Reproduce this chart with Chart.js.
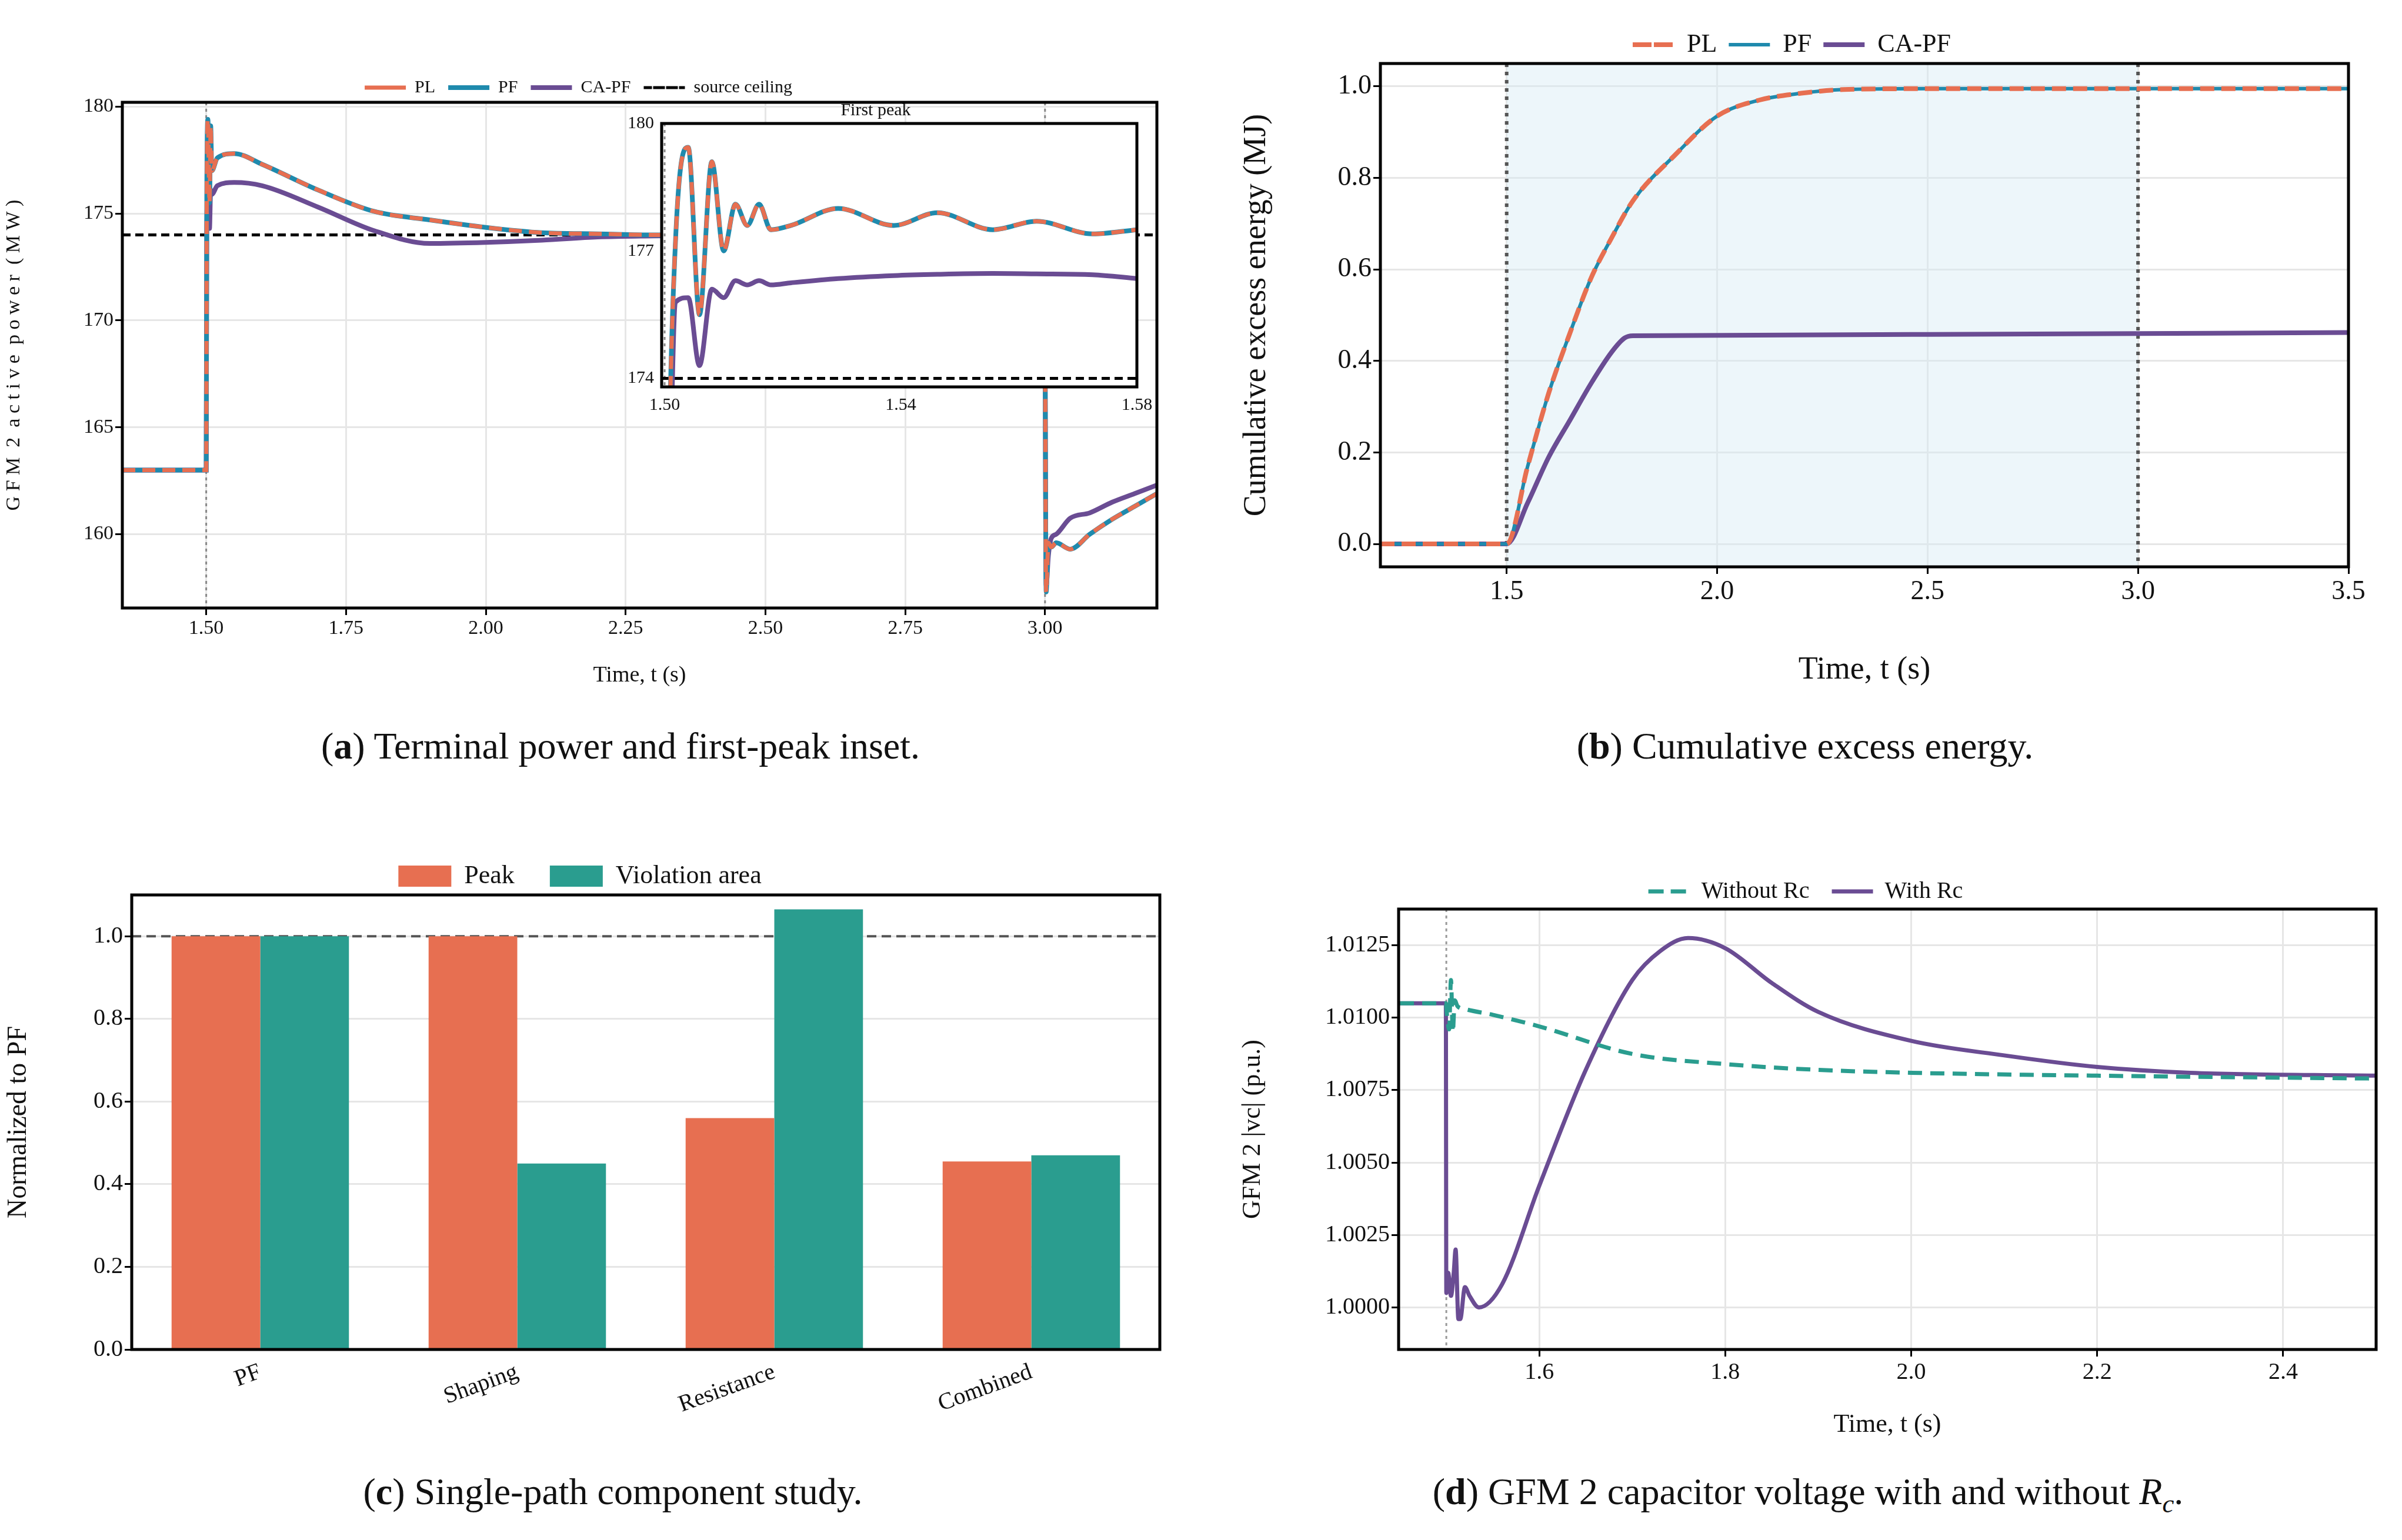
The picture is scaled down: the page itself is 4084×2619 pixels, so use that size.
<!DOCTYPE html>
<html><head><meta charset="utf-8">
<script src="https://cdn.jsdelivr.net/npm/chart.js@4"></script>
<style>
body{margin:0;background:#fff;width:4084px;height:2619px;position:relative;overflow:hidden;font-family:"Liberation Serif",serif}
.box{position:absolute}
.cap{position:absolute;font-size:64px;color:#111;transform:translateX(-50%);white-space:nowrap}
</style></head><body>
<div class="box" style="left:0;top:0;width:2000px;height:1200px"><canvas id="cA"></canvas></div>
<div class="box" style="left:1045px;top:170px;width:930px;height:540px"><canvas id="cI"></canvas></div>
<div class="box" style="left:2100px;top:0;width:1984px;height:1200px"><canvas id="cB"></canvas></div>
<div class="box" style="left:0;top:1380px;width:2000px;height:1110px"><canvas id="cC"></canvas></div>
<div class="box" style="left:2100px;top:1380px;width:1984px;height:1110px"><canvas id="cD"></canvas></div>
<div class="cap" style="left:1055px;top:1232px">(<b>a</b>) Terminal power and first-peak inset.</div>
<div class="cap" style="left:3069px;top:1232px">(<b>b</b>) Cumulative excess energy.</div>
<div class="cap" style="left:1042px;top:2500px">(<b>c</b>) Single-path component study.</div>
<div class="cap" style="left:3074px;top:2500px">(<b>d</b>) GFM 2 capacitor voltage with and without <i>R<sub style="font-size:0.7em">c</sub></i>.</div>
<script>
Chart.defaults.font.family = '"Liberation Serif", serif';
Chart.defaults.color = '#111';
Chart.defaults.animation = false;

// panel (a) main
const tA  = [1.35,1.499,1.5,1.501,1.503,1.5059,1.508,1.51,1.52,1.55,1.6,1.7,1.8,1.9,2.0,2.1,2.2,2.3,2.5,2.8,2.999,3.002,3.006,3.011,3.02,3.045,3.08,3.12,3.16,3.2];
const pfA = [163,163,163,176,179.4,175.5,179.1,177.0,177.6,177.8,177.3,176.1,175.1,174.7,174.35,174.1,174.05,174.0,174.0,174.0,174.0,157.3,159.6,159.4,159.6,159.3,160.0,160.7,161.3,161.9];
const plA = pfA.slice();
const caA = [163,163,163,174.5,175.9,174.3,176.1,175.9,176.3,176.45,176.3,175.3,174.2,173.6,173.65,173.75,173.9,173.95,174.0,174.0,174.0,157.6,159.0,159.8,160.0,160.75,161.0,161.5,161.9,162.3];
const ceilingMW = 174;
const eventTimes = [1.5, 3.0];
const ticksA = [1.5,1.75,2.0,2.25,2.5,2.75,3.0];

// panel (a) inset
const tI  = [1.4995,1.5,1.5005,1.5019,1.504,1.5059,1.508,1.510,1.512,1.514,1.516,1.518,1.5214,1.5294,1.5388,1.5462,1.5556,1.563,1.5725,1.58];
const pfI = [163,163,170,177.4,179.44,175.5,179.1,177.0,178.1,177.6,178.1,177.5,177.6,178.0,177.6,177.9,177.5,177.7,177.4,177.5];
const caI = [163,163,168,175.8,175.9,174.3,176.1,175.9,176.3,176.2,176.3,176.2,176.25,176.35,176.42,176.45,176.47,176.46,176.44,176.35];
const ticksIx = [1.50,1.54,1.58];
const ticksIy = [174,177,180];

// panel (b)
const tB   = [1.2,1.5,1.55,1.6,1.65,1.7,1.75,1.8,1.9,2.0,2.1,2.2,2.3,2.5,3.0,3.5];
const pfB  = [0,0,0.17,0.33,0.46,0.58,0.67,0.75,0.85,0.935,0.97,0.985,0.993,0.995,0.995,0.995];
const tB2  = [1.2,1.5,1.55,1.6,1.65,1.7,1.75,1.78,1.8,2.5,3.5];
const caB  = [0,0,0.09,0.19,0.27,0.35,0.42,0.45,0.455,0.458,0.462];
const windowB = [1.5, 3.0];

// panel (c)
const studies = ['PF','Shaping','Resistance','Combined'];
const peakC = [1.0,1.0,0.56,0.455];
const violC = [1.0,0.45,1.065,0.47];

// panel (d)
const tD1 = [1.45,1.4995,1.5,1.502,1.505,1.508,1.51,1.513,1.515,1.52,1.525,1.535,1.56,1.6,1.65,1.7,1.73,1.76,1.8,1.85,1.9,2.0,2.1,2.2,2.3,2.5];
const withRc = [1.0105,1.0105,1.0005,1.0012,1.0004,1.0012,1.002,0.9996,0.9996,1.0007,1.0004,1.0,1.0008,1.0042,1.0082,1.0113,1.0123,1.01275,1.0124,1.0112,1.0102,1.0092,1.0087,1.0083,1.0081,1.008];
const tD2 = [1.45,1.4995,1.501,1.503,1.505,1.507,1.509,1.512,1.52,1.55,1.6,1.7,1.8,1.9,2.0,2.2,2.5];
const withoutRc = [1.0105,1.0105,1.0100,1.0096,1.0113,1.0095,1.0106,1.0104,1.0103,1.0101,1.0097,1.00875,1.0084,1.0082,1.0081,1.008,1.0079];

const ORANGE = '#e76f51', BLUE = '#1f8aad', PURPLE = '#6a4c93', TEAL = '#2a9d8f';
const pts = (t, v) => t.map((x, i) => ({x, y: v[i]}));

// vertical marker lines / shaded window
const markers = {
  id: 'markers',
  beforeDatasetsDraw(chart, args, o) {
    const {ctx, chartArea: a, scales: {x, y}} = chart;
    ctx.save();
    if (o.band) {
      ctx.fillStyle = o.bandColor;
      const x0 = x.getPixelForValue(o.band[0]), x1 = x.getPixelForValue(o.band[1]);
      ctx.fillRect(x0, a.top, x1 - x0, a.bottom - a.top);
    }
    (o.lines || []).forEach(v => {
      const px = x.getPixelForValue(v);
      ctx.strokeStyle = o.color; ctx.lineWidth = o.width; ctx.setLineDash(o.dash);
      ctx.beginPath(); ctx.moveTo(px, a.top); ctx.lineTo(px, a.bottom); ctx.stroke();
    });
    if (o.hline !== undefined) {
      const py = y.getPixelForValue(o.hline);
      ctx.strokeStyle = o.hColor; ctx.lineWidth = o.hWidth; ctx.setLineDash(o.hDash);
      ctx.beginPath(); ctx.moveTo(a.left, py); ctx.lineTo(a.right, py); ctx.stroke();
    }
    ctx.restore();
  },
  afterDraw(chart, args, o) {
    const {ctx, chartArea: a} = chart;
    ctx.save(); ctx.strokeStyle = '#000'; ctx.lineWidth = o.frame || 5; ctx.setLineDash([]);
    ctx.strokeRect(a.left, a.top, a.right - a.left, a.bottom - a.top);
    ctx.restore();
  }
};
Chart.register(markers);

const grid = {color: '#e6e6e6', lineWidth: 3, tickColor: '#000', tickLength: 12, tickWidth: 3};
function line(label, data, color, w, dash, order) {
  return {label, data, borderColor: color, backgroundColor: color, borderWidth: w, borderDash: dash || [],
    pointRadius: 0, fill: false, cubicInterpolationMode: 'monotone', order: order || 0};
}
// legend drawn as short line samples (keeps the dataset dash)
function legendOpts(size, pad) {
  return {position: 'top', labels: {boxWidth: 70, boxHeight: 0, font: {size}, padding: pad,
    sort: (a, b) => a.datasetIndex - b.datasetIndex}};
}

// (a) main
new Chart(document.getElementById('cA'), {
  type: 'line',
  data: {datasets: [
    line('PL', pts(tA, plA), ORANGE, 7, [22, 12], 1),
    line('PF', pts(tA, pfA), BLUE, 8, [], 2),
    line('CA-PF', pts(tA, caA), PURPLE, 8, [], 3),
    {label: 'source ceiling', data: [], borderColor: '#000', backgroundColor: '#000', borderWidth: 5, borderDash: [14, 8], pointRadius: 0, order: 4}
  ]},
  options: {
    responsive: true, maintainAspectRatio: false, devicePixelRatio: 1,
    layout: {padding: {top: 112, right: 33}},
    plugins: {legend: legendOpts(30, 22), tooltip: {enabled: false},
      markers: {lines: eventTimes, color: '#888', width: 3, dash: [5, 6], hline: ceilingMW, hColor: '#000', hWidth: 5, hDash: [14, 8]}},
    scales: {
      x: {type: 'linear', min: 1.35, max: 3.2, grid, border: {display: false},
        afterBuildTicks: s => { s.ticks = ticksA.map(value => ({value})); },
        ticks: {font: {size: 34}, callback: v => v.toFixed(2)},
        title: {display: true, text: 'Time, t (s)', font: {size: 38}, padding: {top: 0, bottom: 28}},
        afterFit: s => { s.height = 166; }},
      y: {min: 156.55, max: 180.2, grid, border: {display: false},
        afterBuildTicks: s => { s.ticks = [160,165,170,175,180].map(value => ({value})); },
        ticks: {font: {size: 34}},
        title: {display: true, text: 'G F M  2  a c t i v e  p o w e r  ( M W )', font: {size: 34}},
        afterFit: s => { s.width = 208; }}
    }
  }
});

// (a) inset
new Chart(document.getElementById('cI'), {
  type: 'line',
  data: {datasets: [
    line('PL', pts(tI, pfI), ORANGE, 7, [22, 12], 1),
    line('PF', pts(tI, pfI), BLUE, 8, [], 2),
    line('CA-PF', pts(tI, caI), PURPLE, 8, [], 3)
  ]},
  plugins: [{id: 'bg', beforeDraw(c) { const a = c.chartArea; c.ctx.fillStyle = '#fff'; c.ctx.fillRect(a.left, a.top, a.right - a.left, a.bottom - a.top); }}],
  options: {
    responsive: true, maintainAspectRatio: false, devicePixelRatio: 1,
    layout: {padding: {top: 0, right: 42}},
    plugins: {legend: {display: false}, tooltip: {enabled: false},
      title: {display: true, text: 'First peak', font: {size: 30, weight: 'normal'}, padding: {top: 0, bottom: 4}},
      markers: {lines: [1.5], color: '#888', width: 3, dash: [5, 6], hline: ceilingMW, hColor: '#000', hWidth: 5, hDash: [14, 8]}},
    scales: {
      x: {type: 'linear', min: 1.4995, max: 1.58, grid: {display: false, tickColor: '#000', tickLength: 10, tickWidth: 3}, border: {display: false},
        afterBuildTicks: s => { s.ticks = ticksIx.map(value => ({value})); },
        ticks: {font: {size: 30}, callback: v => v.toFixed(2)}},
      y: {min: 173.8, max: 180, grid: {display: false, tickColor: '#000', tickLength: 10, tickWidth: 3}, border: {display: false},
        afterBuildTicks: s => { s.ticks = ticksIy.map(value => ({value})); },
        ticks: {font: {size: 30}}, afterFit: s => { s.width = 80; }}
    }
  }
});

// (b)
new Chart(document.getElementById('cB'), {
  type: 'line',
  data: {datasets: [
    line('PL', pts(tB, pfB), ORANGE, 8, [24, 12], 1),
    line('PF', pts(tB, pfB), BLUE, 6, [], 2),
    line('CA-PF', pts(tB2, caB), PURPLE, 8, [], 3)
  ]},
  options: {
    responsive: true, maintainAspectRatio: false, devicePixelRatio: 1,
    layout: {padding: {top: 34, right: 91}},
    plugins: {legend: legendOpts(44, 20), tooltip: {enabled: false},
      markers: {band: windowB, bandColor: 'rgba(214,234,244,0.45)', lines: windowB, color: '#555', width: 6, dash: [6, 8]}},
    scales: {
      x: {type: 'linear', min: 1.2, max: 3.5, grid, border: {display: false},
        afterBuildTicks: s => { s.ticks = [1.5,2.0,2.5,3.0,3.5].map(value => ({value})); },
        ticks: {font: {size: 46}, callback: v => v.toFixed(1)},
        title: {display: true, text: 'Time, t (s)', font: {size: 54}, padding: {top: 0, bottom: 28}},
        afterFit: s => { s.height = 236; }},
      y: {min: -0.05, max: 1.05, grid, border: {display: false},
        afterBuildTicks: s => { s.ticks = [0,0.2,0.4,0.6,0.8,1.0].map(value => ({value})); },
        ticks: {font: {size: 46}, callback: v => v.toFixed(1)},
        title: {display: true, text: 'Cumulative excess energy (MJ)', font: {size: 54}},
        afterFit: s => { s.width = 247; }}
    }
  }
});

// (c)
new Chart(document.getElementById('cC'), {
  type: 'bar',
  data: {labels: studies, datasets: [
    {label: 'Peak', data: peakC, backgroundColor: ORANGE, borderWidth: 0},
    {label: 'Violation area', data: violC, backgroundColor: TEAL, borderWidth: 0}
  ]},
  options: {
    responsive: true, maintainAspectRatio: false, devicePixelRatio: 1,
    layout: {padding: {top: 28, right: 28}},
    datasets: {bar: {categoryPercentage: 0.69, barPercentage: 1}},
    plugins: {legend: {labels: {boxWidth: 90, boxHeight: 36, font: {size: 44}, padding: 60}}, tooltip: {enabled: false},
      markers: {hline: 1.0, hColor: '#555', hWidth: 4, hDash: [16, 9]}},
    scales: {
      x: {grid: {display: false, tickColor: '#000', tickLength: 12, tickWidth: 3}, border: {display: false},
        ticks: {font: {size: 40}, minRotation: 20, maxRotation: 20},
        afterFit: s => { s.height = 195; }},
      y: {min: 0, max: 1.1, grid, border: {display: false},
        afterBuildTicks: s => { s.ticks = [0,0.2,0.4,0.6,0.8,1.0].map(value => ({value})); },
        ticks: {font: {size: 40}, callback: v => v.toFixed(1)},
        title: {display: true, text: 'Normalized to PF', font: {size: 46}},
        afterFit: s => { s.width = 224; }}
    }
  }
});

// (d)
new Chart(document.getElementById('cD'), {
  type: 'line',
  data: {datasets: [
    line('Without Rc', pts(tD2, withoutRc), TEAL, 7, [24, 14], 1),
    line('With Rc', pts(tD1, withRc), PURPLE, 7, [], 2)
  ]},
  options: {
    responsive: true, maintainAspectRatio: false, devicePixelRatio: 1,
    layout: {padding: {top: 78, right: 44}},
    plugins: {legend: legendOpts(40, 38), tooltip: {enabled: false},
      markers: {lines: [1.5], color: '#999', width: 3, dash: [5, 6]}},
    scales: {
      x: {type: 'linear', min: 1.4487, max: 2.5, grid, border: {display: false},
        afterBuildTicks: s => { s.ticks = [1.6,1.8,2.0,2.2,2.4].map(value => ({value})); },
        ticks: {font: {size: 40}, callback: v => v.toFixed(1)},
        title: {display: true, text: 'Time, t (s)', font: {size: 44}, padding: {top: 0, bottom: 40}},
        afterFit: s => { s.height = 195; }},
      y: {min: 0.99855, max: 1.01375, grid, border: {display: false},
        afterBuildTicks: s => { s.ticks = [1.0,1.0025,1.005,1.0075,1.01,1.0125].map(value => ({value})); },
        ticks: {font: {size: 40}, callback: v => v.toFixed(4)},
        title: {display: true, text: 'GFM 2 |vc| (p.u.)', font: {size: 44}},
        afterFit: s => { s.width = 278; }}
    }
  }
});
</script>
</body></html>
